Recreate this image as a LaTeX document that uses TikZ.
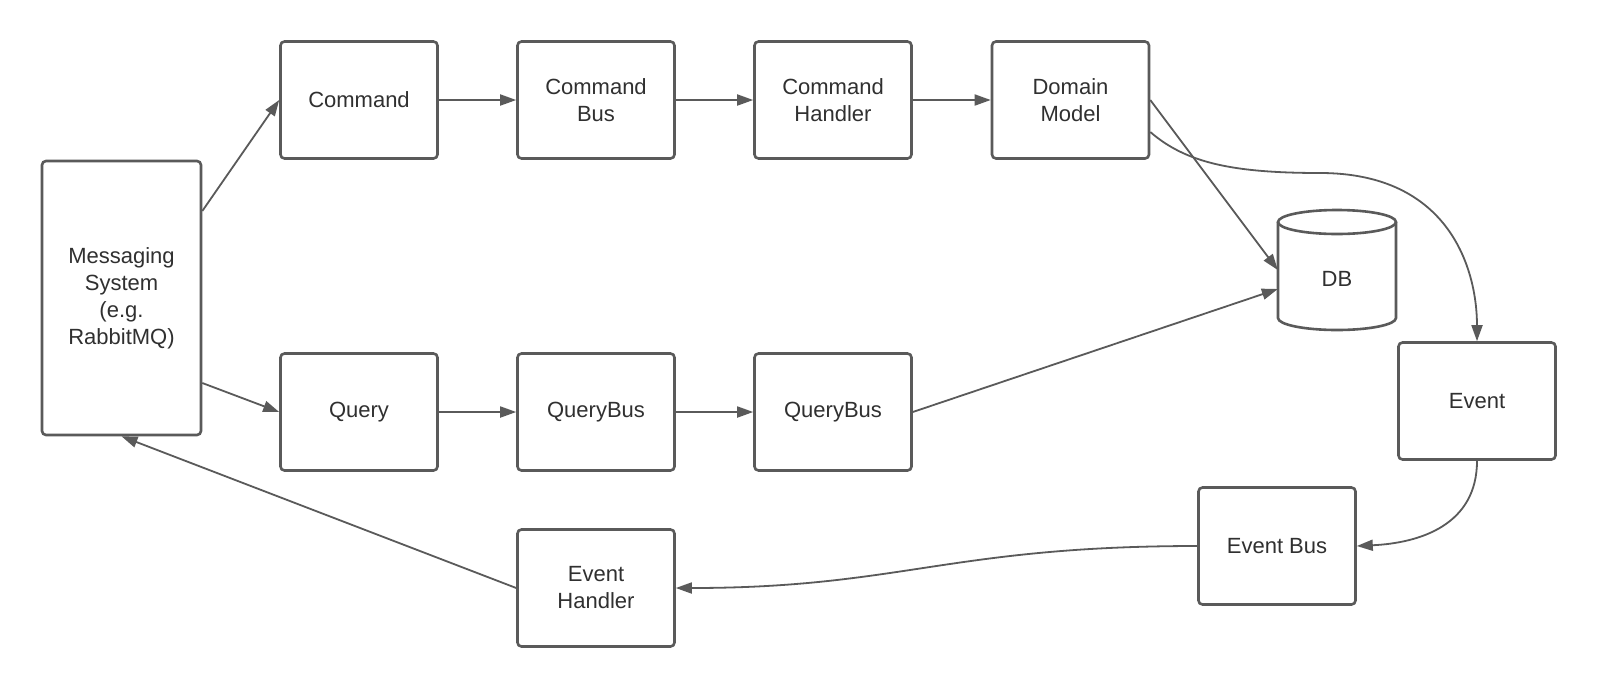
\documentclass[tikz,border=0pt]{standalone}
\usepackage{fontspec}
\setmainfont{Liberation Sans}
\usetikzlibrary{arrows.meta}
\definecolor{ln}{HTML}{5A5A5A}
\definecolor{tx}{HTML}{303030}
\begin{document}
\begin{tikzpicture}[x=1pt,y=-1pt,
  box/.style={draw=ln, line width=2.6pt, rounded corners=4pt, minimum width=157pt, minimum height=117pt, align=center, text=tx, font=\fontsize{22}{27}\selectfont, inner sep=0pt},
  conn/.style={draw=ln, line width=1.8pt, -{Triangle[length=16pt,width=11pt]}},
  lbl/.style={text=tx, font=\fontsize{22}{27}\selectfont, inner sep=0pt},
  cyl/.style={draw=ln, line width=2.6pt}]
\useasboundingbox (0,0) rectangle (1598,689);
\fill[white] (0,0) rectangle (1598,689);

\node[box, minimum height=274pt, minimum width=159pt] (msg) at (121.5,298) {Messaging\\System\\(e.g.\\RabbitMQ)};
\node[box] (cmd) at (359,100) {Command};
\node[box] (cbus) at (596,100) {Command\\Bus};
\node[box] (chand) at (833,100) {Command\\Handler};
\node[box] (dm) at (1070.5,100) {Domain\\Model};
\node[box] (qry) at (359,412) {Query};
\node[box] (qbus) at (596,412) {QueryBus};
\node[box] (qbus2) at (833,412) {QueryBus};
\node[box] (ev) at (1477,401) {Event};
\node[box] (eb) at (1277,546) {Event Bus};
\node[box] (eh) at (596,588) {Event\\Handler};

% DB cylinder
\draw[cyl] (1278,222) -- (1278,318) arc[start angle=180, end angle=360, x radius=59pt, y radius=12pt] -- (1396,222);
\draw[cyl] (1337,222) ellipse [x radius=59pt, y radius=12pt];
\node[minimum width=118pt, minimum height=120pt, inner sep=0pt] (db) at (1337,270) {};
\node[lbl] (dblbl) at (1337,279) {DB};

% connectors
\draw[conn] ([yshift=87pt]msg.east) -- (cmd.west);
\draw[conn] ([yshift=-85pt]msg.east) -- (qry.west);
\draw[conn] (cmd.east) -- (cbus.west);
\draw[conn] (cbus.east) -- (chand.west);
\draw[conn] (chand.east) -- (dm.west);
\draw[conn] (qry.east) -- (qbus.west);
\draw[conn] (qbus.east) -- (qbus2.west);
\draw[conn] (dm.east) -- (db.west);
\draw[conn] (qbus2.east) -- ([yshift=-19pt]db.west);
\coordinate (mid) at (1320,173);
\draw[conn] ([yshift=-32pt]dm.east) .. controls (1185,162) and (1230,173) .. (mid) .. controls (1450,173) and (1477,270) .. (ev.north);
\draw[conn] (ev.south) .. controls (1477,525) and (1420,543) .. (eb.east);
\draw[conn] (eb.west) .. controls (950,546) and (900,588) .. (eh.east);
\draw[conn] (eh.west) -- (msg.south);
\end{tikzpicture}
\end{document}
